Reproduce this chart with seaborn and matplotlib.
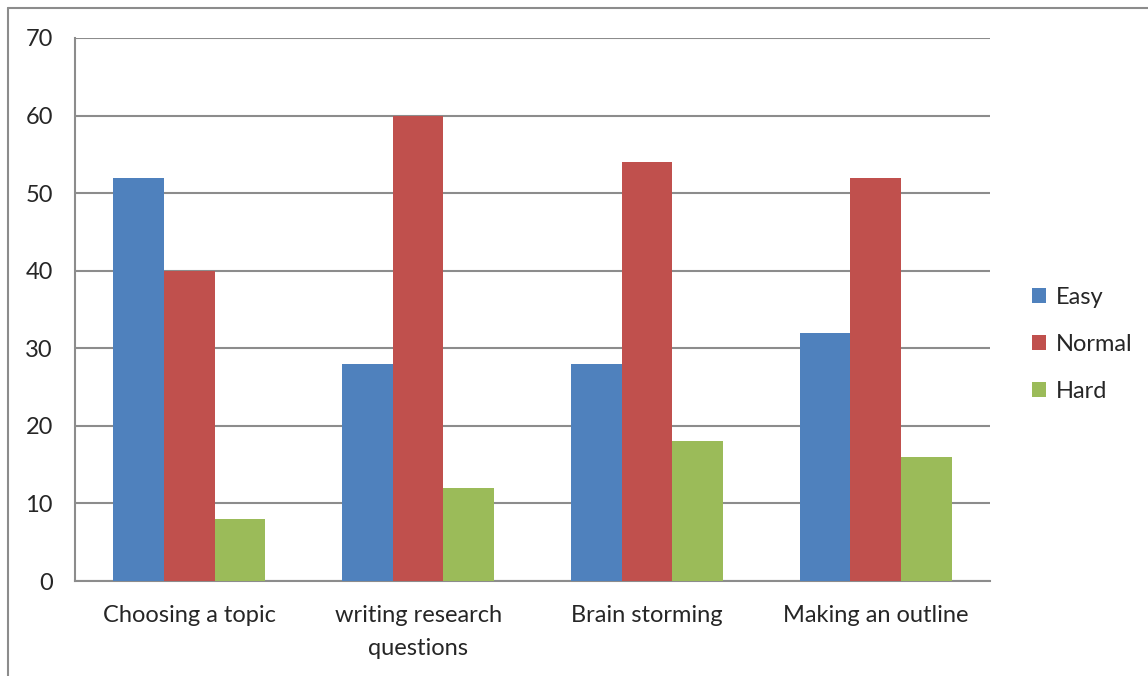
import matplotlib
matplotlib.use("Agg")
import matplotlib.pyplot as plt
import seaborn as sns
import pandas as pd
import numpy as np
from matplotlib.lines import Line2D

# chart data
categories = ["Choosing a topic", "writing research\nquestions", "Brain storming", "Making an outline"]
levels = ["Easy", "Normal", "Hard"]
easy = [52, 28, 28, 32]
normal = [40, 60, 54, 52]
hard = [8, 12, 18, 16]
yticks = [0, 10, 20, 30, 40, 50, 60, 70]

palette = ["#4F81BD", "#C0504D", "#9BBB59"]
grid_col = "#8C8C8C"

df = pd.DataFrame({
    "task": categories * 3,
    "level": [levels[0]] * 4 + [levels[1]] * 4 + [levels[2]] * 4,
    "value": easy + normal + hard,
})

sns.set_style("white")
plt.rcParams['font.family'] = ['Lato', 'DejaVu Sans']

fig = plt.figure(figsize=(11.48, 6.76), dpi=100)
ax = fig.add_axes([75 / 1148, 1 - 581 / 676, (990 - 75) / 1148, (581 - 38) / 676])

sns.barplot(data=df, x="task", y="value", hue="level", hue_order=levels,
            palette=palette, width=0.665, gap=0, saturation=1,
            edgecolor="none", linewidth=0, ax=ax, zorder=3)

ax.set_ylim(0, 70)
ax.set_xlim(-0.5, len(categories) - 0.5)
ax.set_yticks(yticks)
ax.set_yticklabels([str(t) for t in yticks], fontsize=17)
ax.yaxis.grid(True, color=grid_col, linewidth=1.5)
ax.set_axisbelow(True)

# category boundaries as ticks
ax.set_xticks(np.arange(-0.5, len(categories)), minor=True)
ax.tick_params(axis="x", which="minor", length=6, width=1.5, color=grid_col, direction="out")
ax.tick_params(axis="x", which="major", length=0, labelsize=17, pad=17)
for lbl in ax.get_xticklabels():
    lbl.set_linespacing(1.7)
ax.tick_params(axis="y", length=6, width=1.5, color=grid_col, direction="out", pad=10)

for s in ["top", "right"]:
    ax.spines[s].set_visible(False)
for s in ["left", "bottom"]:
    ax.spines[s].set_color(grid_col)
    ax.spines[s].set_linewidth(1.5)

ax.set_xlabel("")
ax.set_ylabel("")

leg = ax.legend(loc="center left", bbox_to_anchor=(1.023, 0.436), frameon=False,
                fontsize=17, handlelength=0.6, handleheight=0.6,
                labelspacing=1.1, handletextpad=0.4)

# outer chart border (left and top edges visible)
fig.add_artist(Line2D([8 / 1148, 8 / 1148], [0, 1 - 8 / 676], color=grid_col, linewidth=1.5))
fig.add_artist(Line2D([8 / 1148, 1], [1 - 8 / 676, 1 - 8 / 676], color=grid_col, linewidth=1.5))

fig.savefig("out.png", dpi=100)
